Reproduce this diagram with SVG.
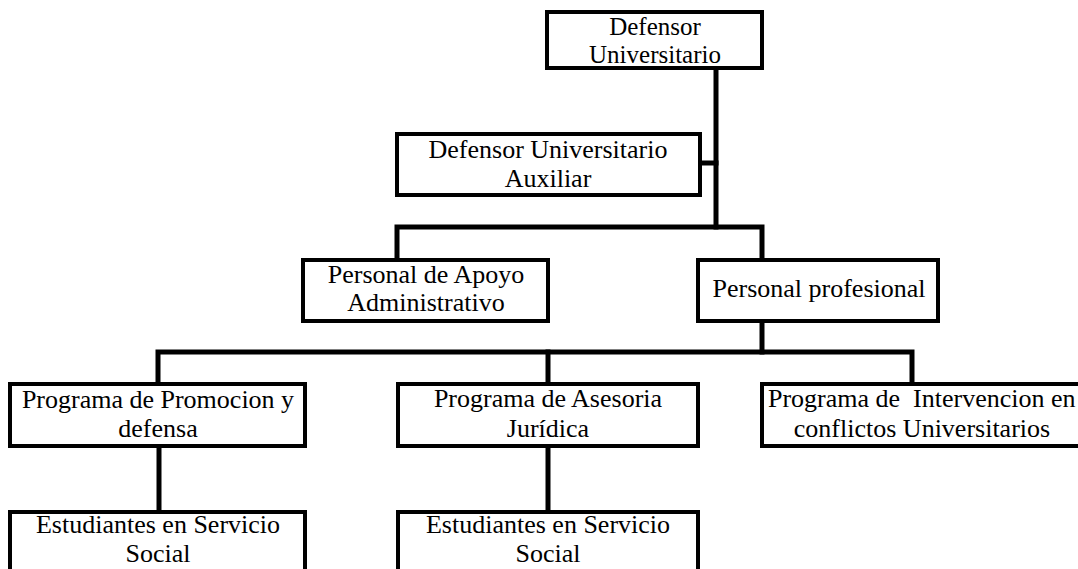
<svg xmlns="http://www.w3.org/2000/svg" width="1078" height="569" viewBox="0 0 1078 569">
<style>
.box{fill:#fff;stroke:#000;stroke-width:4}
.ln{fill:none;stroke:#000;stroke-width:5;stroke-linejoin:miter;stroke-linecap:square}
text{font-family:"Liberation Serif","Times New Roman",serif;font-size:26px;fill:#000;text-anchor:middle}
</style>
<rect width="1078" height="569" fill="#fff"/>
<g id="connectors">
<path class="ln" d="M716,70 V227"/>
<path class="ln" d="M702,163 H716"/>
<path class="ln" d="M397,258 V227 H762 V258"/>
<path class="ln" d="M762,323 V352"/>
<path class="ln" d="M158,382 V352 H912 V382"/>
<path class="ln" d="M548,352 V382"/>
<path class="ln" d="M159,448 V510"/>
<path class="ln" d="M548,448 V510"/>
</g>
<g id="defensor">
<rect class="box" x="547" y="12" width="215" height="56"/>
<text x="655" y="35" style="font-size:25px">Defensor</text>
<text x="655" y="63" style="font-size:25px">Universitario</text>
</g>
<g id="auxiliar">
<rect class="box" x="397" y="134" width="303" height="61"/>
<text x="548" y="158">Defensor Universitario</text>
<text x="548" y="187">Auxiliar</text>
</g>
<g id="apoyo">
<rect class="box" x="303" y="260" width="245" height="61"/>
<text x="426" y="283">Personal de Apoyo</text>
<text x="426" y="311">Administrativo</text>
</g>
<g id="profesional">
<rect class="box" x="698" y="260" width="240" height="61"/>
<text x="819" y="297">Personal profesional</text>
</g>
<g id="promocion">
<rect class="box" x="10" y="384" width="295" height="62"/>
<text x="158" y="408">Programa de Promocion y</text>
<text x="158" y="437">defensa</text>
</g>
<g id="asesoria">
<rect class="box" x="398" y="384" width="300" height="62"/>
<text x="548" y="407">Programa de Asesoria</text>
<text x="548" y="437">Jurídica</text>
</g>
<g id="intervencion">
<rect class="box" x="762" y="384" width="330" height="62"/>
<text x="768" y="407" style="text-anchor:start;white-space:pre" xml:space="preserve">Programa de  Intervencion en</text>
<text x="922" y="437">conflictos Universitarios</text>
</g>
<g id="estudiantes1">
<rect class="box" x="10" y="512" width="295" height="70"/>
<text x="158" y="533">Estudiantes en Servicio</text>
<text x="158" y="562">Social</text>
</g>
<g id="estudiantes2">
<rect class="box" x="398" y="512" width="300" height="70"/>
<text x="548" y="533">Estudiantes en Servicio</text>
<text x="548" y="562">Social</text>
</g>
</svg>
